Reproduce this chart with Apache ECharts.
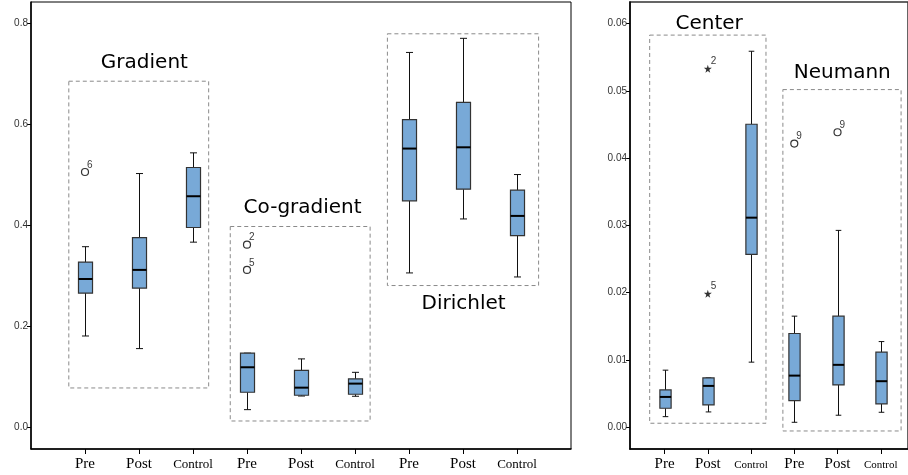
<!DOCTYPE html>
<html>
<head>
<meta charset="utf-8">
<script src="https://cdn.jsdelivr.net/npm/echarts@6/dist/echarts.min.js"></script>
<style>
  html, body { margin: 0; padding: 0; background: #fff; }
</style>
</head>
<body>
<div id="BoxChart" style="width: 908px;height:475px;"></div>
<script>
// 左图：Gradient / Co-gradient / Dirichlet
var leftCats = ['Pre', 'Post', 'Control', 'Pre', 'Post', 'Control', 'Pre', 'Post', 'Control'];
var leftWhiskerLow  = [0.181, 0.156, 0.367, 0.035, 0.062, 0.0615, 0.306, 0.413, 0.298];
var leftQ1          = [0.266, 0.276, 0.396, 0.0695, 0.0635, 0.0655, 0.449, 0.472, 0.380];
var leftMedian      = [0.294, 0.312, 0.458, 0.119, 0.0786, 0.0866, 0.5525, 0.555, 0.419];
var leftQ3          = [0.3275, 0.376, 0.515, 0.147, 0.113, 0.096, 0.610, 0.644, 0.470];
var leftWhiskerHigh = [0.358, 0.503, 0.544, 0.147, 0.1356, 0.109, 0.743, 0.771, 0.501];
// 离群点 [类别序号, 值, 编号]
var leftOutliers = [[0, 0.506, '6'], [3, 0.362, '2'], [3, 0.312, '5']];
var leftTicks = [0, 0.2, 0.4, 0.6, 0.8];

// 右图：Center / Neumann
var rightCats = ['Pre', 'Post', 'Control', 'Pre', 'Post', 'Control'];
var rightWhiskerLow  = [0.00158, 0.00228, 0.00968, 0.00074, 0.00179, 0.00223];
var rightQ1          = [0.00283, 0.00332, 0.0257, 0.00396, 0.0063, 0.00347];
var rightMedian      = [0.00451, 0.00615, 0.03116, 0.00768, 0.00928, 0.00685];
var rightQ3          = [0.00555, 0.00734, 0.04505, 0.01394, 0.01652, 0.01117];
var rightWhiskerHigh = [0.00849, 0.00734, 0.0559, 0.01652, 0.02927, 0.01274];
var rightOutliers = [[3, 0.04218, '9'], [4, 0.04386, '9']];
var rightExtremes = [[1, 0.0533, '2'], [1, 0.01985, '5']];
var rightTicks = [0, 0.01, 0.02, 0.03, 0.04, 0.05, 0.06];

// 分组虚线框：名称, x范围, y范围, 标题位置
var leftGroupNames = ['Gradient', 'Co-gradient', 'Dirichlet'];
var leftGroupX = [[-0.30, 2.29], [2.69, 5.28], [5.60, 8.40]];
var leftGroupY = [[0.078, 0.686], [0.0125, 0.398], [0.281, 0.780]];
var leftGroupLabel = [[1.10, 0.723], [4.03, 0.435], [7.01, 0.245]];

var rightGroupNames = ['Center', 'Neumann'];
var rightGroupX = [[-0.345, 2.345], [2.736, 5.47]];
var rightGroupY = [[0.0006, 0.0583], [-0.00055, 0.0502]];
var rightGroupLabel = [[1.03, 0.06004], [4.11, 0.05275]];

var BOX_W = 0.26;
var boxFill = '#78a9d7';

function boxData(low, q1, med, q3, high) {
  return low.map(function (v, i) {
    return [i, v, q1[i], med[i], q3[i], high[i]];
  });
}

function groupData(xs, ys, labels) {
  return xs.map(function (x, i) {
    return [x[0], x[1], ys[i][0], ys[i][1], labels[i][0], labels[i][1]];
  });
}

// 箱线图自定义绘制
function renderBox(params, api) {
  var x = api.value(0);
  var lo = api.coord([x, api.value(1)]);
  var q1 = api.coord([x, api.value(2)]);
  var md = api.coord([x, api.value(3)]);
  var q3 = api.coord([x, api.value(4)]);
  var hi = api.coord([x, api.value(5)]);
  var cx = Math.round(lo[0]) + 0.5;
  var hw = api.size([BOX_W, 0])[0] / 2;
  var cw = hw * 0.5;
  var lineStyle = { stroke: '#111', lineWidth: 1 };
  return {
    type: 'group',
    children: [
      { type: 'line', shape: { x1: cx, y1: lo[1], x2: cx, y2: q1[1] }, style: lineStyle },
      { type: 'line', shape: { x1: cx, y1: q3[1], x2: cx, y2: hi[1] }, style: lineStyle },
      { type: 'line', shape: { x1: cx - cw, y1: lo[1], x2: cx + cw, y2: lo[1] }, style: lineStyle },
      { type: 'line', shape: { x1: cx - cw, y1: hi[1], x2: cx + cw, y2: hi[1] }, style: lineStyle },
      {
        type: 'rect',
        shape: { x: cx - hw, y: q3[1], width: hw * 2, height: q1[1] - q3[1] },
        style: { fill: boxFill, stroke: '#333', lineWidth: 1.2 }
      },
      { type: 'line', shape: { x1: cx - hw, y1: md[1], x2: cx + hw, y2: md[1] }, style: { stroke: '#000', lineWidth: 2 } }
    ]
  };
}

function makeGroupRender(names) {
  return function (params, api) {
    var p0 = api.coord([api.value(0), api.value(3)]);
    var p1 = api.coord([api.value(1), api.value(2)]);
    var lp = api.coord([api.value(4), api.value(5)]);
    return {
      type: 'group',
      children: [
        {
          type: 'rect',
          shape: { x: p0[0], y: p0[1], width: p1[0] - p0[0], height: p1[1] - p0[1] },
          style: { fill: 'none', stroke: '#8a8a8a', lineWidth: 1, lineDash: [4, 3] }
        },
        {
          type: 'text',
          x: lp[0], y: lp[1],
          style: {
            text: names[params.dataIndex], fill: '#000',
            font: '20px "DejaVu Sans"', align: 'center', verticalAlign: 'middle'
          }
        }
      ]
    };
  };
}

var starPath = 'path://M50,0 L61,35 L98,35 L68,57 L79,91 L50,70 L21,91 L32,57 L2,35 L39,35 Z';

function xAxisFor(cats, gridIndex, min, max, ctrlSize) {
  var vals = cats.map(function (c, i) { return i; });
  return {
    type: 'value', gridIndex: gridIndex, min: min, max: max,
    splitLine: { show: false },
    axisLine: { show: true, onZero: false, lineStyle: { color: '#000', width: 1.5 } },
    axisTick: { show: true, customValues: vals, length: 5, lineStyle: { color: '#000' } },
    axisLabel: {
      customValues: vals, margin: 6,
      formatter: function (v) {
        var n = cats[Math.round(v)];
        return n === 'Control' ? '{s|' + n + '}' : '{b|' + n + '}';
      },
      rich: {
        b: { fontFamily: 'Liberation Serif', fontSize: 15, color: '#000', lineHeight: 18 },
        s: { fontFamily: 'Liberation Serif', fontSize: ctrlSize, color: '#000', lineHeight: 18, padding: [2, 0, 0, 0] }
      }
    }
  };
}

function yAxisFor(ticks, gridIndex, min, max, digits) {
  return {
    type: 'value', gridIndex: gridIndex, min: min, max: max,
    splitLine: { show: false },
    axisLine: { show: true, onZero: false, lineStyle: { color: '#000', width: 1.5 } },
    axisTick: { show: true, customValues: ticks, length: 4, lineStyle: { color: '#000' } },
    axisLabel: {
      customValues: ticks, margin: 3, color: '#333',
      fontFamily: 'Liberation Sans', fontSize: 10,
      formatter: function (v) { return v.toFixed(digits); }
    }
  };
}

var chart = echarts.init(document.getElementById('BoxChart'));

var option = {
  animation: false,
  backgroundColor: '#fff',
  grid: [
    { left: 31, right: 337, top: 2, bottom: 26, show: true, borderColor: '#000', borderWidth: 1 },
    { left: 630, right: -2, top: 2, bottom: 26, show: true, borderColor: '#333', borderWidth: 1.5 }
  ],
  xAxis: [
    xAxisFor(leftCats, 0, -1, 9, 13),
    xAxisFor(rightCats, 1, -0.8, 5.63, 11)
  ],
  yAxis: [
    yAxisFor(leftTicks, 0, -0.043, 0.843, 1),
    yAxisFor(rightTicks, 1, -0.00323, 0.06322, 2)
  ],
  series: [
    {
      type: 'custom', xAxisIndex: 0, yAxisIndex: 0,
      renderItem: makeGroupRender(leftGroupNames),
      data: groupData(leftGroupX, leftGroupY, leftGroupLabel), clip: false
    },
    {
      type: 'custom', xAxisIndex: 1, yAxisIndex: 1,
      renderItem: makeGroupRender(rightGroupNames),
      data: groupData(rightGroupX, rightGroupY, rightGroupLabel), clip: false
    },
    {
      type: 'custom', xAxisIndex: 0, yAxisIndex: 0, renderItem: renderBox,
      data: boxData(leftWhiskerLow, leftQ1, leftMedian, leftQ3, leftWhiskerHigh)
    },
    {
      type: 'custom', xAxisIndex: 1, yAxisIndex: 1, renderItem: renderBox,
      data: boxData(rightWhiskerLow, rightQ1, rightMedian, rightQ3, rightWhiskerHigh)
    },
    {
      type: 'scatter', xAxisIndex: 0, yAxisIndex: 0,
      symbol: 'circle', symbolSize: 7,
      itemStyle: { color: '#fff', borderColor: '#000', borderWidth: 1.2 },
      label: {
        show: true, position: [6, -8], fontSize: 10, color: '#000', fontFamily: 'Liberation Sans',
        formatter: function (p) { return p.data[2]; }
      },
      data: leftOutliers
    },
    {
      type: 'scatter', xAxisIndex: 1, yAxisIndex: 1,
      symbol: 'circle', symbolSize: 7,
      itemStyle: { color: '#fff', borderColor: '#000', borderWidth: 1.2 },
      label: {
        show: true, position: [6, -8], fontSize: 10, color: '#000', fontFamily: 'Liberation Sans',
        formatter: function (p) { return p.data[2]; }
      },
      data: rightOutliers
    },
    {
      type: 'scatter', xAxisIndex: 1, yAxisIndex: 1,
      symbol: starPath, symbolSize: 8,
      itemStyle: { color: '#000' },
      label: {
        show: true, position: [7, -8], fontSize: 10, color: '#000', fontFamily: 'Liberation Sans',
        formatter: function (p) { return p.data[2]; }
      },
      data: rightExtremes
    }
  ]
};

chart.setOption(option);
</script>
</body>
</html>
